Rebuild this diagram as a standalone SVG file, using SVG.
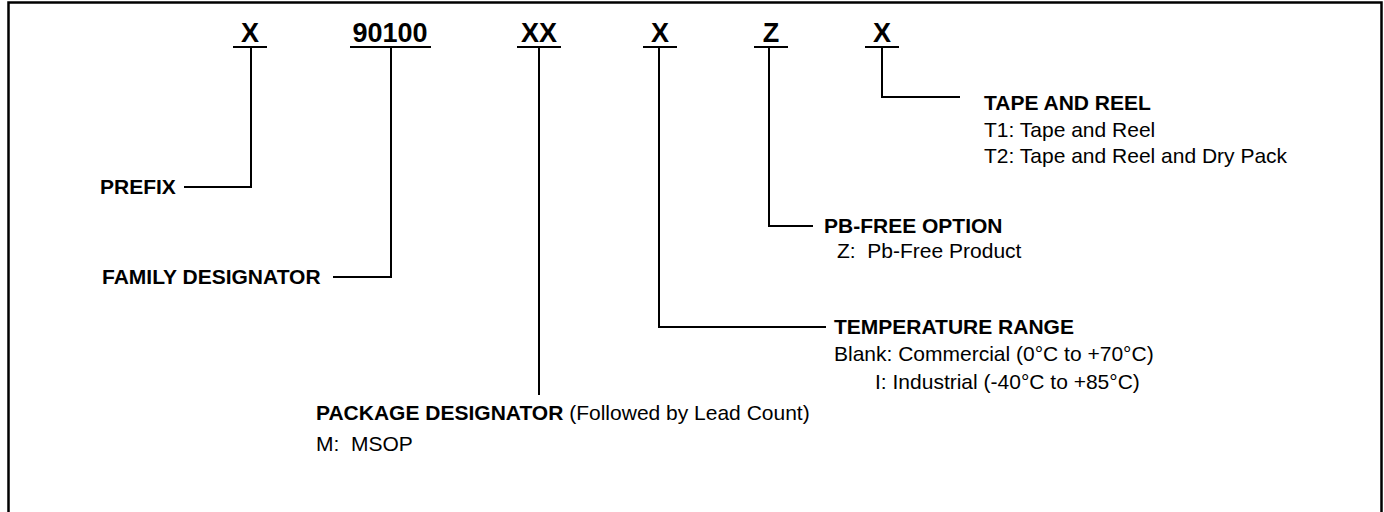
<svg xmlns="http://www.w3.org/2000/svg" width="1384" height="512" viewBox="0 0 1384 512">
<style>
.ln{fill:none;stroke:#000;stroke-width:2}
.hd{font-family:"Liberation Sans",Arial,sans-serif;font-weight:bold;font-size:27px;text-anchor:middle;fill:#000}
.lb{font-family:"Liberation Sans",Arial,sans-serif;font-weight:bold;font-size:21px;fill:#000}
.tx{font-family:"Liberation Sans",Arial,sans-serif;font-size:21px;fill:#000}
</style>
<rect width="1384" height="512" fill="#fff"/>
<path d="M8.5,513 V2.5 H1381.5 V513" fill="none" stroke="#000" stroke-width="2.5"/>
<g id="fields">
<text class="hd" x="250" y="42">X</text>
<text class="hd" x="390" y="42">90100</text>
<text class="hd" x="539" y="42">XX</text>
<text class="hd" x="660" y="42">X</text>
<text class="hd" x="771" y="42">Z</text>
<text class="hd" x="882" y="42">X</text>
</g>
<g id="connectors">
<path class="ln" d="M233,47 H267 M251,47 V187 H184"/>
<path class="ln" d="M350,47 H431 M391,47 V277 H333"/>
<path class="ln" d="M517,47 H561 M539,47 V395"/>
<path class="ln" d="M643,47 H677 M659,47 V327 H826"/>
<path class="ln" d="M754,47 H788 M769,47 V226 H813"/>
<path class="ln" d="M865,47 H899 M882,47 V97 H960"/>
</g>
<g id="prefix">
<text class="lb" x="100" y="194">PREFIX</text>
</g>
<g id="family">
<text class="lb" x="102" y="284">FAMILY DESIGNATOR</text>
</g>
<g id="package">
<text class="lb" x="316" y="420">PACKAGE DESIGNATOR <tspan class="tx" font-weight="normal">(Followed by Lead Count)</tspan></text>
<text class="tx" x="316" y="451" xml:space="preserve">M:  MSOP</text>
</g>
<g id="temperature">
<text class="lb" x="834" y="334">TEMPERATURE RANGE</text>
<text class="tx" x="834" y="361">Blank: Commercial (0°C to +70°C)</text>
<text class="tx" x="875" y="389">I: Industrial (-40°C to +85°C)</text>
</g>
<g id="pbfree">
<text class="lb" x="824" y="233">PB-FREE OPTION</text>
<text class="tx" x="837" y="258" xml:space="preserve">Z:  Pb-Free Product</text>
</g>
<g id="tape">
<text class="lb" x="984" y="110">TAPE AND REEL</text>
<text class="tx" x="984" y="137">T1: Tape and Reel</text>
<text class="tx" x="984" y="163">T2: Tape and Reel and Dry Pack</text>
</g>
</svg>
